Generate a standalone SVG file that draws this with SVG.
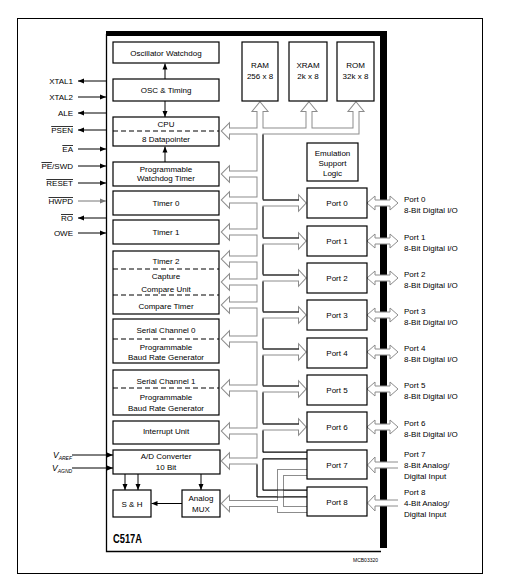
<svg xmlns="http://www.w3.org/2000/svg" xmlns:xlink="http://www.w3.org/1999/xlink" width="505" height="581" viewBox="0 0 505 581">
<defs>
<style>
.t{font-family:"Liberation Sans",Arial,sans-serif;font-size:8px;fill:#000;text-anchor:middle}
.ts{font-family:"Liberation Sans",Arial,sans-serif;font-size:8px;fill:#000}
.te{font-family:"Liberation Sans",Arial,sans-serif;font-size:8px;fill:#000;text-anchor:end}
.b{fill:#fff;stroke:#000;stroke-width:1.2}
.d{stroke:#000;stroke-width:1;stroke-dasharray:5 3}
.w{fill:none;stroke:#000;stroke-width:1}
.wg{fill:none;stroke:#777;stroke-width:1}
.ov{text-decoration:overline}
.pa{fill:#fff;stroke:#8c8c8c;stroke-width:1}
</style>
<marker id="a" viewBox="0 0 6 6" refX="6" refY="3" markerWidth="6" markerHeight="6" markerUnits="userSpaceOnUse" orient="auto"><path d="M0,0.5 L6,3 L0,5.5 z" fill="#000"/></marker>
<marker id="ag" viewBox="0 0 6 6" refX="6" refY="3" markerWidth="6" markerHeight="6" markerUnits="userSpaceOnUse" orient="auto"><path d="M0,0.5 L6,3 L0,5.5 z" fill="#777"/></marker>
<path id="pipes" d="M229,131H356V111 M309,131V111 M260,111V493.5H307 M260,455.5H307 M260,174H229 M260,200H229 M260,232H229 M260,259H229 M260,282H229 M260,305H229 M260,339H229 M260,388H229 M260,431H229 M260,461H229 M260,203H299 M260,241H299 M260,278H299 M260,315H299 M260,352H299 M260,389H299 M260,427H299"/>
<g id="heads">
<polygon points="222,131 229,124 229,138"/>
<polygon points="222,174 229,167 229,181"/>
<polygon points="222,200 229,193 229,207"/>
<polygon points="222,232 229,225 229,239"/>
<polygon points="222,259 229,252 229,266"/>
<polygon points="222,282 229,275 229,289"/>
<polygon points="222,305 229,298 229,312"/>
<polygon points="222,339 229,332 229,346"/>
<polygon points="222,388 229,381 229,395"/>
<polygon points="222,431 229,424 229,438"/>
<polygon points="222,461 229,454 229,468"/>
<polygon points="260,102.5 253,111 267,111"/>
<polygon points="309,102.5 302,111 316,111"/>
<polygon points="356,102.5 349,111 363,111"/>
<polygon points="305.5,203 299,196 299,210"/>
<polygon points="305.5,241 299,234 299,248"/>
<polygon points="305.5,278 299,271 299,285"/>
<polygon points="305.5,315 299,308 299,322"/>
<polygon points="305.5,352 299,345 299,359"/>
<polygon points="305.5,389 299,382 299,396"/>
<polygon points="305.5,427 299,420 299,434"/>
</g>
<path id="apipe" d="M307,472.5H280.5V509.5H307 M280.5,503.5H229"/>
<polygon id="ahead" points="222,503.5 229,496.5 229,510.5"/>
</defs>

<g id="frame">
<rect x="17.5" y="18.5" width="465" height="555" fill="#fff" stroke="#000" stroke-width="1"/>
<path d="M106.5,34 V551.5 H381" fill="none" stroke="#000" stroke-width="1.3"/>
<rect x="106" y="31" width="281" height="5" fill="#000"/>
<rect x="380" y="31" width="7" height="517" fill="#000"/>
<text x="113" y="543" font-family="Liberation Sans, Arial, sans-serif" font-weight="bold" font-size="12" textLength="29" lengthAdjust="spacingAndGlyphs">C517A</text>
<text x="353" y="562" font-family="Liberation Sans, Arial, sans-serif" font-size="5">MCB03320</text>
</g>

<g id="connectors">
<g id="bus">
<use xlink:href="#pipes" fill="none" stroke="#8c8c8c" stroke-width="7"/>
<use xlink:href="#heads" fill="#8c8c8c" stroke="#8c8c8c" stroke-width="2"/>
<use xlink:href="#pipes" fill="none" stroke="#fff" stroke-width="5"/>
<use xlink:href="#heads" fill="#fff" stroke="none"/>
<use xlink:href="#apipe" fill="none" stroke="#8c8c8c" stroke-width="7"/>
<use xlink:href="#ahead" fill="#8c8c8c" stroke="#8c8c8c" stroke-width="2"/>
<use xlink:href="#apipe" fill="none" stroke="#fff" stroke-width="5"/>
<use xlink:href="#ahead" fill="#fff" stroke="none"/>
<path class="w" d="M263,134.5V199.5 M263,206.5V237.5 M263,244.5V274.5 M263,281.5V311.5 M263,318.5V348.5 M263,355.5V385.5 M263,392.5V423.5 M263,430.5V452 M263,459V490 M263,200H299 M263,238H299 M263,275H299 M263,312H299 M263,349H299 M263,386H299 M263,424H299 M263,452H307 M263,459H307 M263,490H307 M257,497H307 M257,464.5V497"/>
</g>
<g id="port-arrows">
<polygon class="pa" points="367,203 375,196 375,200 390,200 390,196 398,203 390,210 390,206 375,206 375,210"/>
<polygon class="pa" points="367,241 375,234 375,238 390,238 390,234 398,241 390,248 390,244 375,244 375,248"/>
<polygon class="pa" points="367,278 375,271 375,275 390,275 390,271 398,278 390,285 390,281 375,281 375,285"/>
<polygon class="pa" points="367,315 375,308 375,312 390,312 390,308 398,315 390,322 390,318 375,318 375,322"/>
<polygon class="pa" points="367,352 375,345 375,349 390,349 390,345 398,352 390,359 390,355 375,355 375,359"/>
<polygon class="pa" points="367,389 375,382 375,386 390,386 390,382 398,389 390,396 390,392 375,392 375,396"/>
<polygon class="pa" points="367,427 375,420 375,424 390,424 390,420 398,427 390,434 390,430 375,430 375,434"/>
<path class="pa" d="M398,462H375V457L367.5,465L375,473V468H398"/>
<path class="pa" d="M398,500H375V495L367.5,503L375,511V506H398"/>
</g>
<g id="pin-arrows">
<line class="w" x1="106" y1="81" x2="78" y2="81" marker-end="url(#a)"/>
<line class="w" x1="78" y1="97" x2="106" y2="97" marker-end="url(#a)"/>
<line class="w" x1="106" y1="113" x2="78" y2="113" marker-end="url(#a)"/>
<line class="w" x1="106" y1="130" x2="78" y2="130" marker-end="url(#a)"/>
<line class="w" x1="78" y1="149" x2="106" y2="149" marker-end="url(#a)"/>
<line class="w" x1="78" y1="166" x2="106" y2="166" marker-end="url(#a)"/>
<line class="w" x1="78" y1="183" x2="106" y2="183" marker-end="url(#a)"/>
<line class="wg" x1="78" y1="201" x2="106" y2="201" marker-end="url(#ag)"/>
<line class="w" x1="106" y1="218" x2="78" y2="218" marker-end="url(#a)"/>
<line class="w" x1="78" y1="233" x2="106" y2="233" marker-end="url(#a)"/>
<line class="w" x1="72" y1="455" x2="113" y2="455" marker-end="url(#a)"/>
<line class="w" x1="72" y1="468" x2="113" y2="468" marker-end="url(#a)"/>
</g>
<g id="internal-arrows">
<line class="w" x1="165" y1="79" x2="165" y2="63.5" marker-end="url(#a)"/>
<line class="w" x1="165" y1="101" x2="165" y2="117" marker-end="url(#a)"/>
<line class="w" x1="165" y1="162" x2="165" y2="146.5" marker-end="url(#a)"/>
<line class="w" x1="125" y1="474" x2="125" y2="490" marker-end="url(#a)"/>
<line class="w" x1="138" y1="474" x2="138" y2="490" marker-end="url(#a)"/>
<line class="w" x1="201" y1="474" x2="201" y2="490" marker-end="url(#a)"/>
<line class="w" x1="182" y1="503.5" x2="151.5" y2="503.5" marker-end="url(#a)"/>
</g>
</g>

<g id="pins">
<text class="te" x="73" y="84">XTAL1</text>
<text class="te" x="73" y="100">XTAL2</text>
<text class="te" x="73" y="116">ALE</text>
<text class="te" x="73" y="133"><tspan class="ov">PSEN</tspan></text>
<text class="te" x="73" y="152"><tspan class="ov">EA</tspan></text>
<text class="te" x="73" y="169"><tspan class="ov">PE</tspan>/SWD</text>
<text class="te" x="73" y="186"><tspan class="ov">RESET</tspan></text>
<text class="te" x="73" y="204"><tspan class="ov">HWPD</tspan></text>
<text class="te" x="73" y="221"><tspan class="ov">RO</tspan></text>
<text class="te" x="73" y="236">OWE</text>
<text x="53" y="458" font-family="Liberation Sans, Arial, sans-serif" font-style="italic" font-size="8.5">V<tspan font-size="5" dy="2">AREF</tspan></text>
<text x="52" y="471" font-family="Liberation Sans, Arial, sans-serif" font-style="italic" font-size="8.5">V<tspan font-size="5" dy="2">AGND</tspan></text>
</g>

<g id="osc-watchdog"><rect class="b" x="113" y="42" width="106" height="21"/><text class="t" x="166" y="55.5">Oscillator Watchdog</text></g>
<g id="osc-timing"><rect class="b" x="113" y="79" width="106" height="22"/><text class="t" x="166" y="93">OSC &amp; Timing</text></g>
<g id="cpu"><rect class="b" x="113" y="117" width="106" height="29"/><line class="d" x1="113" y1="131" x2="219" y2="131"/><text class="t" x="166" y="127">CPU</text><text class="t" x="166" y="142">8 Datapointer</text></g>
<g id="watchdog-timer"><rect class="b" x="113" y="162" width="106" height="24"/><text class="t" x="166" y="172">Programmable</text><text class="t" x="166" y="181">Watchdog Timer</text></g>
<g id="timer0"><rect class="b" x="113" y="191" width="106" height="24"/><text class="t" x="166" y="206">Timer 0</text></g>
<g id="timer1"><rect class="b" x="113" y="220" width="106" height="24"/><text class="t" x="166" y="235">Timer 1</text></g>
<g id="timer2"><rect class="b" x="113" y="251" width="106" height="63"/><line class="d" x1="113" y1="269" x2="219" y2="269"/><line class="d" x1="113" y1="295" x2="219" y2="295"/><text class="t" x="166" y="264">Timer 2</text><text class="t" x="166" y="279">Capture</text><text class="t" x="166" y="292">Compare Unit</text><text class="t" x="166" y="309">Compare Timer</text></g>
<g id="serial0"><rect class="b" x="113" y="319" width="106" height="44"/><line class="d" x1="113" y1="339" x2="219" y2="339"/><text class="t" x="166" y="333">Serial Channel 0</text><text class="t" x="166" y="350">Programmable</text><text class="t" x="166" y="360">Baud Rate Generator</text></g>
<g id="serial1"><rect class="b" x="113" y="370" width="106" height="45"/><line class="d" x1="113" y1="388" x2="219" y2="388"/><text class="t" x="166" y="384">Serial Channel 1</text><text class="t" x="166" y="400">Programmable</text><text class="t" x="166" y="411">Baud Rate Generator</text></g>
<g id="interrupt"><rect class="b" x="113" y="421" width="106" height="23"/><text class="t" x="166" y="434">Interrupt Unit</text></g>
<g id="adc"><rect class="b" x="113" y="450" width="107" height="24"/><text class="t" x="166" y="459">A/D Converter</text><text class="t" x="166" y="470">10 Bit</text></g>
<g id="sh"><rect class="b" x="113" y="490" width="38" height="27"/><text class="t" x="132" y="507">S &amp; H</text></g>
<g id="mux"><rect class="b" x="182" y="490" width="38" height="27"/><text class="t" x="201" y="501">Analog</text><text class="t" x="201" y="512">MUX</text></g>
<g id="ram"><rect class="b" x="242" y="42" width="36" height="59"/><text class="t" x="260" y="68">RAM</text><text class="t" x="260" y="79">256 x 8</text></g>
<g id="xram"><rect class="b" x="289" y="42" width="38" height="59"/><text class="t" x="308" y="68">XRAM</text><text class="t" x="308" y="79">2k x 8</text></g>
<g id="rom"><rect class="b" x="337" y="42" width="37" height="59"/><text class="t" x="355.5" y="68">ROM</text><text class="t" x="355.5" y="79">32k x 8</text></g>
<g id="emulation"><rect class="b" x="307" y="143" width="51" height="38"/><text class="t" x="332.5" y="155.5">Emulation</text><text class="t" x="332.5" y="166">Support</text><text class="t" x="332.5" y="176">Logic</text></g>

<g id="port0"><rect class="b" x="307" y="188" width="60" height="30"/><text class="t" x="337" y="206">Port 0</text><text class="ts" x="404" y="201.5">Port 0</text><text class="ts" x="404" y="213">8-Bit Digital I/O</text></g>
<g id="port1"><rect class="b" x="307" y="226" width="60" height="30"/><text class="t" x="337" y="244">Port 1</text><text class="ts" x="404" y="239.5">Port 1</text><text class="ts" x="404" y="251">8-Bit Digital I/O</text></g>
<g id="port2"><rect class="b" x="307" y="263" width="60" height="30"/><text class="t" x="337" y="281">Port 2</text><text class="ts" x="404" y="276.5">Port 2</text><text class="ts" x="404" y="288">8-Bit Digital I/O</text></g>
<g id="port3"><rect class="b" x="307" y="300" width="60" height="30"/><text class="t" x="337" y="318">Port 3</text><text class="ts" x="404" y="313.5">Port 3</text><text class="ts" x="404" y="325">8-Bit Digital I/O</text></g>
<g id="port4"><rect class="b" x="307" y="338" width="60" height="30"/><text class="t" x="337" y="356">Port 4</text><text class="ts" x="404" y="350.5">Port 4</text><text class="ts" x="404" y="362">8-Bit Digital I/O</text></g>
<g id="port5"><rect class="b" x="307" y="375" width="60" height="30"/><text class="t" x="337" y="393">Port 5</text><text class="ts" x="404" y="387.5">Port 5</text><text class="ts" x="404" y="399">8-Bit Digital I/O</text></g>
<g id="port6"><rect class="b" x="307" y="412" width="60" height="30"/><text class="t" x="337" y="430">Port 6</text><text class="ts" x="404" y="425.5">Port 6</text><text class="ts" x="404" y="437">8-Bit Digital I/O</text></g>
<g id="port7"><rect class="b" x="307" y="450" width="60" height="29"/><text class="t" x="337" y="468">Port 7</text><text class="ts" x="404" y="457">Port 7</text><text class="ts" x="404" y="468">8-Bit Analog/</text><text class="ts" x="404" y="479">Digital Input</text></g>
<g id="port8"><rect class="b" x="307" y="487" width="60" height="29"/><text class="t" x="337" y="505">Port 8</text><text class="ts" x="404" y="495">Port 8</text><text class="ts" x="404" y="506">4-Bit Analog/</text><text class="ts" x="404" y="517">Digital Input</text></g>
</svg>
